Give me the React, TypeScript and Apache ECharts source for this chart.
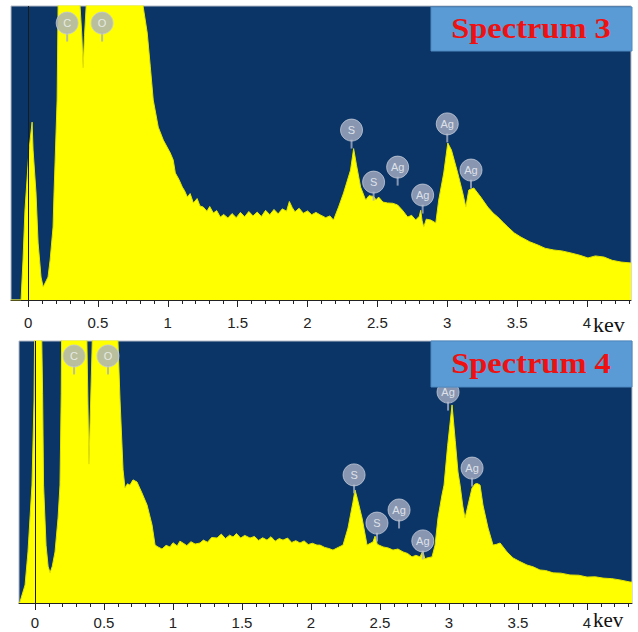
import React, { useEffect, useRef } from 'react';
import * as echarts from 'echarts';

const majorTicks = [0, 0.5, 1, 1.5, 2, 2.5, 3, 3.5, 4];
const minorTicks = [0, 0.1, 0.2, 0.3, 0.4, 0.5, 0.6, 0.7, 0.8, 0.9, 1, 1.1, 1.2, 1.3, 1.4, 1.5, 1.6, 1.7, 1.8, 1.9, 2, 2.1, 2.2, 2.3, 2.4, 2.5, 2.6, 2.7, 2.8, 2.9, 3, 3.1, 3.2, 3.3, 3.4, 3.5, 3.6, 3.7, 3.8, 3.9, 4, 4.1, 4.2, 4.3];

const spectrum3 = [
  [-0.122, 0], [-0.05, 0], [-0.036, 13.6], [-0.022, 30.6], [0.007, 51], [0.029, 60.5], [0.036, 51], [0.057, 36.4], [0.072, 19.4], [0.093, 7.8], [0.108, 4.4], [0.143, 7.8], [0.158, 13.6], [0.179, 24.8], [0.186, 36.4], [0.194, 47.6], [0.208, 68], [0.215, 100], [0.22, 130], [0.36, 130], [0.372, 100], [0.385, 90], [0.394, 79], [0.404, 90], [0.416, 100], [0.43, 130], [0.81, 130], [0.824, 99.7], [0.853, 90.8], [0.875, 79.3], [0.896, 68], [0.932, 58.8], [0.968, 54.4], [1.018, 50], [1.039, 47.6], [1.054, 43.2], [1.08, 41], [1.104, 38.4], [1.12, 37.2], [1.14, 35], [1.16, 36.2], [1.183, 33], [1.21, 34.5], [1.23, 32], [1.254, 31.6], [1.28, 30.2], [1.3, 31.8], [1.326, 29.6], [1.35, 30.4], [1.376, 28.2], [1.4, 29.1], [1.43, 27.9], [1.46, 29.4], [1.49, 28.0], [1.52, 29.8], [1.55, 28.3], [1.58, 30.1], [1.61, 28.6], [1.64, 29.9], [1.67, 28.4], [1.7, 30.5], [1.73, 29.0], [1.76, 30.8], [1.79, 29.3], [1.82, 31.0], [1.85, 30.2], [1.87, 33.5], [1.89, 31.5], [1.91, 30.0], [1.94, 31.2], [1.97, 29.5], [2.0, 30.3], [2.03, 29.0], [2.06, 29.8], [2.093, 28.9], [2.13, 28.0], [2.16, 28.6], [2.186, 27.2], [2.222, 31.6], [2.258, 36.4], [2.308, 44.2], [2.33, 51.5], [2.35, 46], [2.38, 38.4], [2.416, 34], [2.44, 35.5], [2.473, 35.2], [2.49, 34.1], [2.509, 35], [2.54, 33.3], [2.573, 33], [2.61, 32.9], [2.645, 32.3], [2.68, 30.5], [2.717, 28.2], [2.745, 28.8], [2.774, 27.2], [2.8, 28.5], [2.81, 30.5], [2.82, 27], [2.832, 24.8], [2.85, 27.5], [2.882, 27.2], [2.918, 26.2], [2.939, 34], [2.975, 43.2], [3.004, 53.4], [3.03, 51], [3.075, 43.2], [3.111, 36.4], [3.133, 31.6], [3.154, 37.4], [3.19, 38.1], [3.24, 35], [3.29, 31.6], [3.33, 29.5], [3.362, 28.2], [3.4, 26.4], [3.434, 24.8], [3.48, 22.8], [3.527, 21.4], [3.59, 19.8], [3.649, 18.7], [3.7, 17.6], [3.763, 17], [3.82, 16.7], [3.885, 16], [3.95, 15.2], [4.007, 14.3], [4.06, 15.0], [4.122, 14.6], [4.18, 13.5], [4.244, 12.9], [4.315, 12.6],
];

const spectrum4 = [
  [-0.116, 0], [-0.109, 0.4], [-0.072, 6.9], [-0.051, 19.5], [-0.022, 45], [-0.007, 77.5], [0.002, 130], [0.04, 130], [0.055, 80], [0.062, 45], [0.08, 22], [0.095, 14], [0.109, 11.5], [0.125, 14], [0.145, 19.5], [0.167, 32.4], [0.181, 45], [0.19, 80], [0.196, 130], [0.362, 130], [0.376, 100], [0.391, 53], [0.415, 100], [0.432, 130], [0.595, 130], [0.601, 100], [0.616, 77.5], [0.638, 50.8], [0.652, 43.9], [0.67, 45.5], [0.688, 45], [0.71, 47], [0.739, 46.2], [0.775, 42], [0.812, 37.4], [0.848, 29.8], [0.87, 22.1], [0.891, 21.4], [0.92, 20.6], [0.95, 22.0], [0.978, 21.4], [1.0, 23.0], [1.03, 21.8], [1.05, 23.6], [1.072, 22.9], [1.1, 21.9], [1.13, 23.4], [1.16, 22.5], [1.196, 22.9], [1.22, 24.0], [1.25, 23.2], [1.28, 25.0], [1.319, 24.8], [1.35, 26.3], [1.38, 24.6], [1.41, 25.9], [1.435, 25.2], [1.46, 26.5], [1.49, 24.8], [1.52, 25.8], [1.558, 24.8], [1.59, 25.4], [1.62, 23.9], [1.65, 24.9], [1.681, 24], [1.71, 25.3], [1.74, 23.6], [1.77, 24.6], [1.797, 24], [1.83, 24.8], [1.86, 23.1], [1.89, 23.8], [1.92, 22.9], [1.95, 23.7], [1.98, 22.3], [2.01, 22.8], [2.043, 22.1], [2.065, 22.1], [2.1, 21.2], [2.13, 20.8], [2.159, 20.2], [2.2, 21.3], [2.232, 22.1], [2.268, 28.6], [2.304, 38.5], [2.319, 43.1], [2.335, 40], [2.37, 32.4], [2.406, 22.1], [2.43, 22.8], [2.449, 23.3], [2.464, 25.5], [2.48, 22.4], [2.522, 21.4], [2.56, 21.0], [2.594, 20.2], [2.63, 20.6], [2.667, 19.5], [2.7, 18.9], [2.732, 17.6], [2.76, 18.2], [2.79, 17.6], [2.81, 19.8], [2.825, 16.8], [2.841, 17.2], [2.877, 17.6], [2.899, 22.1], [2.92, 32.4], [2.949, 41.2], [2.964, 45], [2.99, 60], [3.022, 75.6], [3.045, 62], [3.065, 50], [3.08, 45], [3.1, 37], [3.116, 32.4], [3.138, 37.4], [3.167, 43.9], [3.188, 45.4], [3.205, 45.6], [3.225, 45], [3.246, 37.4], [3.283, 28.6], [3.319, 22.1], [3.345, 22.4], [3.37, 22.9], [3.42, 19.5], [3.464, 17.2], [3.51, 15.9], [3.565, 14.5], [3.61, 13.8], [3.659, 12.6], [3.7, 12.4], [3.754, 11.5], [3.81, 11.4], [3.877, 10.7], [3.94, 10.6], [4.0, 9.9], [4.06, 10.0], [4.116, 9.5], [4.18, 9.3], [4.239, 8.8], [4.312, 8.0], [4.326, 8.0],
];

const elementNames3 = ['C', 'O', 'S', 'S', 'Ag', 'Ag', 'Ag', 'Ag'];
const elementEnergy3 = [0.28, 0.53, 2.315, 2.473, 2.645, 2.824, 3.0, 3.17];
const elementLevel3 = [94.2, 94.2, 57.8, 40.1, 45.2, 35.7, 59.9, 44.2];

const elementNames4 = ['C', 'O', 'S', 'S', 'Ag', 'Ag', 'Ag', 'Ag'];
const elementEnergy4 = [0.283, 0.529, 2.312, 2.478, 2.638, 2.81, 2.993, 3.167];
const elementLevel4 = [94.3, 94.3, 48.9, 30.5, 35.5, 23.7, 80.5, 51.5];

const titles = ['Spectrum 3', 'Spectrum 4'];
const unitLabel = 'kev';

const BG = '#0a3566';
const YELLOW = '#ffff00';
const BADGE = '#a7afc4';

function badgeData(names: string[], es: number[], ls: number[]) {
  return names.map((n, i) => ({ name: n, value: [es[i], ls[i]] }));
}

export default function App() {
  const ref = useRef<HTMLDivElement>(null);
  useEffect(() => {
    if (!ref.current) return;
    const chart = echarts.init(ref.current, undefined, { renderer: 'svg' });
    const mkMajor = (grid: number, min: number, max: number, margin: number) => ({
      type: 'value', gridIndex: grid, min, max, position: 'bottom',
      axisLine: { show: true, onZero: false, lineStyle: { color: '#222', width: 1 } },
      axisTick: { show: true, customValues: majorTicks, length: 7, lineStyle: { color: '#222' } },
      axisLabel: { show: true, customValues: majorTicks, margin, fontSize: 15, color: '#222', fontFamily: 'Arial, "Liberation Sans", sans-serif' },
      splitLine: { show: false },
    });
    const mkMinor = (grid: number, min: number, max: number) => ({
      type: 'value', gridIndex: grid, min, max, position: 'bottom',
      axisLine: { show: false, onZero: false },
      axisTick: { show: true, customValues: minorTicks, length: 4, lineStyle: { color: '#222' } },
      axisLabel: { show: false },
      splitLine: { show: false },
    });
    const spectrumSeries = (xi: number, yi: number, data: number[][]) => ({
      type: 'line', xAxisIndex: xi, yAxisIndex: yi, data, symbol: 'none', silent: true,
      lineStyle: { color: '#e4e400', width: 1 },
      areaStyle: { color: YELLOW, opacity: 1 },
      z: 2,
      markLine: {
        silent: true, symbol: 'none', label: { show: false },
        lineStyle: { color: '#1a1a1a', width: 1, type: 'solid' },
        data: [{ xAxis: 0 }],
      },
    });
    const badgeSeries = (xi: number, yi: number, data: any[]) => ([
      {
        type: 'scatter', xAxisIndex: xi, yAxisIndex: yi, data, symbol: 'rect', symbolSize: [2, 9], symbolOffset: [0, 14],
        itemStyle: { color: BADGE }, silent: true, z: 4,
      },
      {
        type: 'scatter', xAxisIndex: xi, yAxisIndex: yi, data, symbol: 'circle', symbolSize: 22,
        itemStyle: { color: BADGE, borderColor: '#c4cad8', borderWidth: 1 }, silent: true, z: 5,
        label: { show: true, position: 'inside', formatter: '{b}', color: '#f4f6fa', fontSize: 11, fontFamily: 'Arial, "Liberation Sans", sans-serif' },
      },
    ]);
    const option: any = {
      animation: false,
      grid: [
        { left: 11, top: 6, width: 620, height: 294, show: true, backgroundColor: BG, borderColor: '#b4bcc8', borderWidth: 1 },
        { left: 19, top: 341, width: 613, height: 262, show: true, backgroundColor: BG, borderColor: '#b4bcc8', borderWidth: 1 },
      ],
      xAxis: [
        mkMajor(0, -0.122, 4.315, 15),
        mkMinor(0, -0.122, 4.315),
        mkMajor(1, -0.116, 4.326, 12),
        mkMinor(1, -0.116, 4.326),
      ],
      yAxis: [
        { type: 'value', gridIndex: 0, min: 0, max: 100, show: false, splitLine: { show: false } },
        { type: 'value', gridIndex: 1, min: 0, max: 100, show: false, splitLine: { show: false } },
      ],
      series: [
        spectrumSeries(0, 0, spectrum3),
        spectrumSeries(2, 1, spectrum4),
        ...badgeSeries(0, 0, badgeData(elementNames3, elementEnergy3, elementLevel3)),
        ...badgeSeries(2, 1, badgeData(elementNames4, elementEnergy4, elementLevel4)),
      ],
      graphic: [
        { type: 'rect', z: 100, shape: { x: 431, y: 7, width: 201, height: 44 }, style: { fill: '#5b9bd5', stroke: '#4d88c0', lineWidth: 1 } },
        { type: 'text', z: 101, x: 531, y: 29, scaleX: 1.12, style: { text: titles[0], align: 'center', verticalAlign: 'middle', fill: '#ee1111', font: 'bold 29px "Times New Roman", "Liberation Serif", serif' } },
        { type: 'rect', z: 100, shape: { x: 431, y: 341, width: 201, height: 46 }, style: { fill: '#5b9bd5', stroke: '#4d88c0', lineWidth: 1 } },
        { type: 'text', z: 101, x: 531, y: 364, scaleX: 1.12, style: { text: titles[1], align: 'center', verticalAlign: 'middle', fill: '#ee1111', font: 'bold 29px "Times New Roman", "Liberation Serif", serif' } },
        { type: 'text', z: 101, x: 593, y: 324, style: { text: unitLabel, align: 'left', verticalAlign: 'middle', fill: '#111', font: '22px "Times New Roman", "Liberation Serif", serif' } },
        { type: 'text', z: 101, x: 593, y: 620, style: { text: unitLabel, align: 'left', verticalAlign: 'middle', fill: '#111', font: '21px "Times New Roman", "Liberation Serif", serif' } },
      ],
    };
    chart.setOption(option);
    return () => chart.dispose();
  }, []);
  return <div ref={ref} style={{ position: 'fixed', left: 0, top: 0, width: 638, height: 632, background: '#fff' }} />;
}
